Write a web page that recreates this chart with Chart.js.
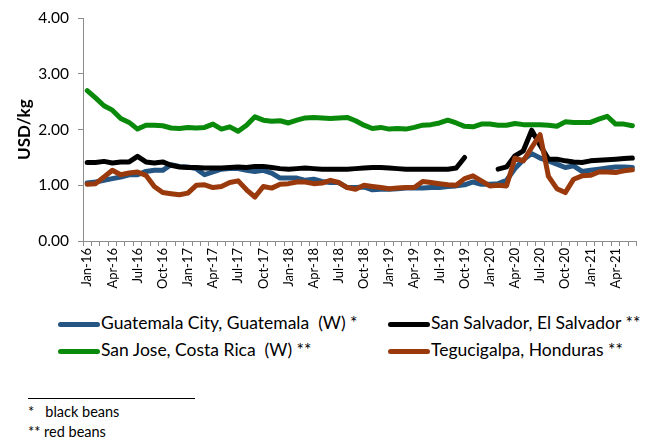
<!DOCTYPE html>
<html>
<head>
<meta charset="utf-8">
<script src="https://cdn.jsdelivr.net/npm/chart.js@4.4.0/dist/chart.umd.min.js"></script>
<style>
  body { margin: 0; background: #fff; font-family: Lato, "Liberation Sans", sans-serif; }
  #wrap { position: relative; width: 650px; height: 445px; }
  #chartBox { position: absolute; left: 0; top: 0; width: 650px; height: 300px; }
  .leg { position: absolute; font-size: 17.5px; color: #000; white-space: pre; line-height: 20px; }
  .leg .sw { display: inline-block; width: 42px; height: 5px; border-radius: 3px; vertical-align: middle; margin-right: 1px; }
  .note { position: absolute; left: 28px; font-size: 14.5px; color: #000; white-space: pre; }
  #rule { position: absolute; left: 28px; top: 398px; width: 167px; border-top: 1px solid #000; }
</style>
</head>
<body>
<div id="wrap">
  <div id="chartBox"><canvas id="myChart" width="650" height="300"></canvas></div>
  <div id="legend"></div>
  <div id="rule"></div>
  <div class="note" style="top:403px">*   black beans</div>
  <div class="note" style="top:423px">** red beans</div>
</div>
<script>
// ---- data ----
const monthNames = ['Jan', 'Feb', 'Mar', 'Apr', 'May', 'Jun', 'Jul', 'Aug', 'Sep', 'Oct', 'Nov', 'Dec'];
const firstYear = 2016;
const monthCount = 66; // Jan-16 .. Jun-21

const guatemala = [1.04, 1.06, 1.09, 1.12, 1.15, 1.19, 1.19, 1.25, 1.27, 1.27, 1.37, 1.34,
  1.33, 1.30, 1.19, 1.24, 1.29, 1.30, 1.30, 1.27, 1.25, 1.27, 1.22, 1.13,
  1.13, 1.13, 1.09, 1.11, 1.07, 1.05, 1.05, 0.96, 0.96, 0.97, 0.92, 0.93,
  0.93, 0.94, 0.95, 0.95, 0.95, 0.96, 0.96, 0.98, 0.99, 1.01, 1.06, 1.02,
  1.02, 1.03, 1.09, 1.30, 1.46, 1.57, 1.49, 1.44, 1.38, 1.32, 1.35, 1.25,
  1.27, 1.29, 1.31, 1.33, 1.33, 1.32];
const sanSalvador = [1.41, 1.41, 1.43, 1.40, 1.42, 1.42, 1.52, 1.42, 1.40, 1.42, 1.36, 1.33,
  1.32, 1.32, 1.31, 1.31, 1.31, 1.32, 1.33, 1.32, 1.34, 1.34, 1.32, 1.30,
  1.29, 1.30, 1.31, 1.30, 1.29, 1.29, 1.29, 1.29, 1.30, 1.31, 1.32, 1.32,
  1.31, 1.30, 1.29, 1.29, 1.29, 1.29, 1.29, 1.29, 1.31, 1.50, null, null,
  null, 1.29, 1.33, 1.53, 1.62, 1.99, 1.72, 1.47, 1.47, 1.44, 1.42, 1.41,
  1.44, 1.45, 1.46, 1.47, 1.48, 1.49];
const sanJose = [2.70, 2.57, 2.43, 2.35, 2.20, 2.13, 2.01, 2.08, 2.08, 2.07, 2.03, 2.02,
  2.04, 2.03, 2.04, 2.10, 2.01, 2.05, 1.97, 2.08, 2.23, 2.17, 2.15, 2.16,
  2.12, 2.17, 2.21, 2.22, 2.21, 2.20, 2.21, 2.22, 2.16, 2.08, 2.02, 2.04,
  2.01, 2.02, 2.01, 2.04, 2.08, 2.09, 2.12, 2.17, 2.12, 2.06, 2.05, 2.10,
  2.10, 2.08, 2.08, 2.11, 2.09, 2.09, 2.09, 2.08, 2.06, 2.14, 2.13, 2.13,
  2.13, 2.19, 2.24, 2.10, 2.10, 2.07];
const tegucigalpa = [1.02, 1.03, 1.15, 1.27, 1.19, 1.22, 1.24, 1.18, 0.98, 0.87, 0.85, 0.83,
  0.86, 1.00, 1.01, 0.96, 0.98, 1.05, 1.08, 0.92, 0.79, 0.98, 0.95, 1.02,
  1.03, 1.06, 1.06, 1.03, 1.04, 1.09, 1.05, 0.96, 0.93, 1.00, 0.98, 0.96,
  0.94, 0.95, 0.96, 0.96, 1.07, 1.05, 1.03, 1.01, 1.00, 1.12, 1.17, 1.08,
  0.99, 1.00, 0.99, 1.49, 1.44, 1.68, 1.91, 1.16, 0.94, 0.87, 1.11, 1.17,
  1.18, 1.24, 1.24, 1.23, 1.26, 1.28];

const yTicks = [0, 1, 2, 3, 4];

const categories = [];
for (let i = 0; i < monthCount; i++) {
  const yy = String((firstYear + Math.floor(i / 12)) % 100).padStart(2, '0');
  categories.push(monthNames[i % 12] + '-' + yy);
}

const series = [
  { name: 'Guatemala City, Guatemala  (W) *', data: guatemala, color: '#255583', order: 3 },
  { name: 'San Salvador, El Salvador **', data: sanSalvador, color: '#000000', order: 1 },
  { name: 'San Jose, Costa Rica  (W) **', data: sanJose, color: '#0a8a0a', order: 2 },
  { name: 'Tegucigalpa, Honduras **', data: tegucigalpa, color: '#9a3a0c', order: 0 }
];

// ---- legend (2 x 2, html) ----
const legendPos = [[58, 313], [388, 313], [58, 340], [388, 340]];
const legendEl = document.getElementById('legend');
series.forEach((s, i) => {
  const d = document.createElement('div');
  d.className = 'leg';
  d.style.left = legendPos[i][0] + 'px';
  d.style.top = legendPos[i][1] + 'px';
  d.innerHTML = '<span class="sw" style="background:' + s.color + '"></span>' + s.name;
  legendEl.appendChild(d);
});

// ---- chart ----
const axisGrey = '#8c8c8c';
const ctx = document.getElementById('myChart').getContext('2d');

new Chart(ctx, {
  type: 'line',
  data: {
    labels: categories,
    datasets: series.map(s => ({
      label: s.name,
      data: s.data,
      borderColor: s.color,
      backgroundColor: s.color,
      borderWidth: 5,
      pointRadius: 0,
      tension: 0,
      spanGaps: false,
      borderCapStyle: 'round',
      borderJoinStyle: 'round',
      order: s.order
    }))
  },
  options: {
    responsive: false,
    animation: false,
    devicePixelRatio: 1,
    layout: { padding: { top: 12, right: 6, left: 0, bottom: 0 } },
    plugins: {
      legend: { display: false },
      tooltip: { enabled: false }
    },
    scales: {
      x: {
        type: 'category',
        offset: true,
        afterFit: (scale) => { scale.height = 59; },
        grid: { drawOnChartArea: false, drawTicks: true, tickLength: 5, color: axisGrey, offset: true },
        border: { display: true, color: axisGrey, width: 1 },
        ticks: {
          autoSkip: false,
          maxRotation: 90,
          minRotation: 90,
          padding: 2,
          color: '#000',
          font: { family: 'Lato', size: 13 },
          callback: (v, i) => (i % 3 === 0 ? categories[i] : '')
        }
      },
      y: {
        min: yTicks[0],
        max: yTicks[yTicks.length - 1],
        afterFit: (scale) => { scale.width = 83; },
        afterBuildTicks: (scale) => { scale.ticks = yTicks.map(v => ({ value: v })); },
        grid: { drawOnChartArea: false, drawTicks: true, tickLength: 5, color: axisGrey },
        border: { display: true, color: axisGrey, width: 1 },
        ticks: {
          padding: 9,
          color: '#000',
          font: { family: 'Lato', size: 15.5 },
          callback: (v) => Number(v).toFixed(2)
        },
        title: {
          display: true,
          text: 'USD/kg',
          color: '#000',
          font: { family: 'Lato', size: 17, weight: 'bold' },
          padding: { top: 14, bottom: 0 }
        }
      }
    }
  }
});
</script>
</body>
</html>
